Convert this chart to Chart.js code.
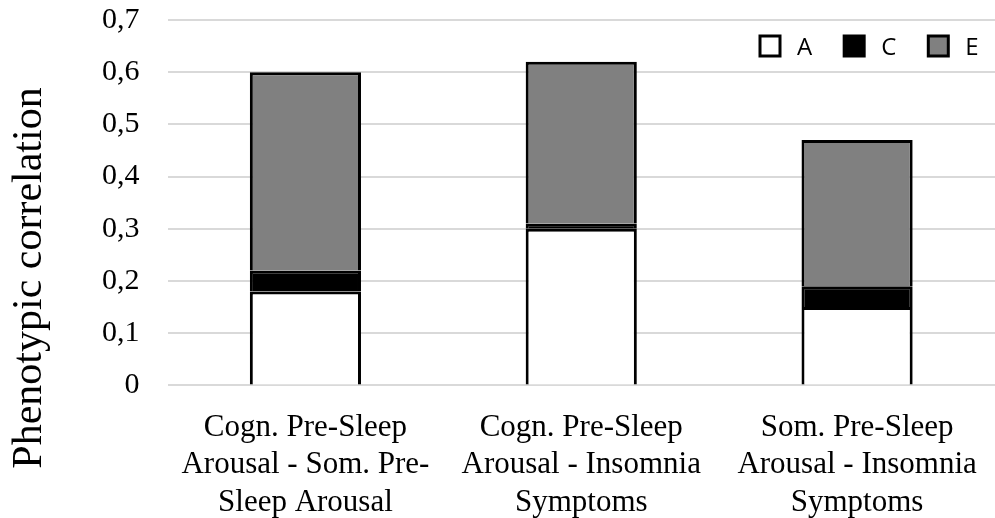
<!DOCTYPE html>
<html lang="en">
  <head>
    <meta charset="UTF-8" />
    <title>Phenotypic correlation</title>
    <style>
      * {
        box-sizing: border-box;
        margin: 0;
        padding: 0;
      }

      body {
        background-color: #ffffff;
      }

      .chart-box {
        width: 995px;
        height: 518px;
      }
    </style>
    <script src="https://cdn.jsdelivr.net/npm/chart.js"></script>
  </head>
  <body>
    <div class="chart-box">
      <canvas id="corrChart"></canvas>
    </div>
    <script>
      const categories = [
        ["Cogn. Pre-Sleep", "Arousal - Som. Pre-", "Sleep Arousal"],
        ["Cogn. Pre-Sleep", "Arousal - Insomnia", "Symptoms"],
        ["Som. Pre-Sleep", "Arousal - Insomnia", "Symptoms"],
      ];
      const valuesA = [0.18, 0.3, 0.15];
      const valuesC = [0.04, 0.01, 0.04];
      const valuesE = [0.38, 0.31, 0.28];
      const yTicks = [0, 0.1, 0.2, 0.3, 0.4, 0.5, 0.6, 0.7];
      const yTitle = "Phenotypic correlation";

      const serif = "'Liberation Serif', 'Times New Roman', serif";

      function makeSet(label, data, color) {
        return {
          label: label,
          data: data,
          backgroundColor: color,
          borderColor: "#000000",
          borderWidth: 3,
          borderSkipped: "start",
        };
      }

      // legend sits inside the plot, top right, in one row
      const insideLegend = {
        id: "insideLegend",
        afterDraw(chart) {
          const ctx = chart.ctx;
          let x = 760;
          const y = 46;
          ctx.save();
          ctx.font = "24px 'Open Sans', sans-serif";
          ctx.textBaseline = "middle";
          chart.data.datasets.forEach((ds) => {
            ctx.fillStyle = ds.backgroundColor;
            ctx.fillRect(x, y - 10, 20, 20);
            ctx.lineWidth = 3;
            ctx.strokeStyle = "#000000";
            ctx.strokeRect(x, y - 10, 20, 20);
            ctx.fillStyle = "#000000";
            ctx.fillText(ds.label, x + 37, y + 2);
            x += 37 + ctx.measureText(ds.label).width + 32;
          });
          ctx.restore();
        },
      };

      // y title centred on the whole picture, not on the plot
      const sideTitle = {
        id: "sideTitle",
        afterDraw(chart) {
          const ctx = chart.ctx;
          ctx.save();
          ctx.translate(30, 278);
          ctx.rotate(-Math.PI / 2);
          ctx.font = "42px " + serif;
          ctx.fillStyle = "#000000";
          ctx.textAlign = "center";
          ctx.textBaseline = "middle";
          ctx.fillText(yTitle, 0, 0);
          ctx.restore();
        },
      };

      new Chart(document.getElementById("corrChart"), {
        type: "bar",
        data: {
          labels: categories,
          datasets: [
            makeSet("A", valuesA, "#ffffff"),
            makeSet("C", valuesC, "#000000"),
            makeSet("E", valuesE, "#808080"),
          ],
        },
        plugins: [insideLegend, sideTitle],
        options: {
          responsive: true,
          maintainAspectRatio: false,
          animation: false,
          layout: {
            padding: { top: 20, right: -7, bottom: -19, left: 74 },
          },
          datasets: {
            bar: {
              categoryPercentage: 1,
              barPercentage: 0.403,
            },
          },
          plugins: {
            legend: { display: false },
            tooltip: { enabled: false },
          },
          scales: {
            x: {
              stacked: true,
              grid: { display: false },
              border: { display: false },
              // plot runs a little past the right edge, like the original
              afterFit: (scale) => {
                scale.paddingLeft = 0;
                scale.paddingRight = -7;
              },
              ticks: {
                color: "#000000",
                maxRotation: 0,
                padding: 16,
                font: { family: serif, size: 31, lineHeight: 1.2 },
              },
            },
            y: {
              stacked: true,
              min: 0,
              max: 0.7,
              afterBuildTicks: (axis) => {
                axis.ticks = yTicks.map((v) => ({ value: v }));
              },
              afterFit: (scale) => {
                scale.paddingTop = 0;
                scale.paddingBottom = 0;
                scale.paddingRight = -7;
              },
              grid: {
                color: "#d9d9d9",
                lineWidth: 2,
                drawTicks: false,
              },
              border: { display: false },
              ticks: {
                color: "#000000",
                padding: 28,
                font: { family: serif, size: 30 },
                callback: (v) => (v === 0 ? "0" : v.toFixed(1).replace(".", ",")),
              },
            },
          },
        },
      });
    </script>
  </body>
</html>
